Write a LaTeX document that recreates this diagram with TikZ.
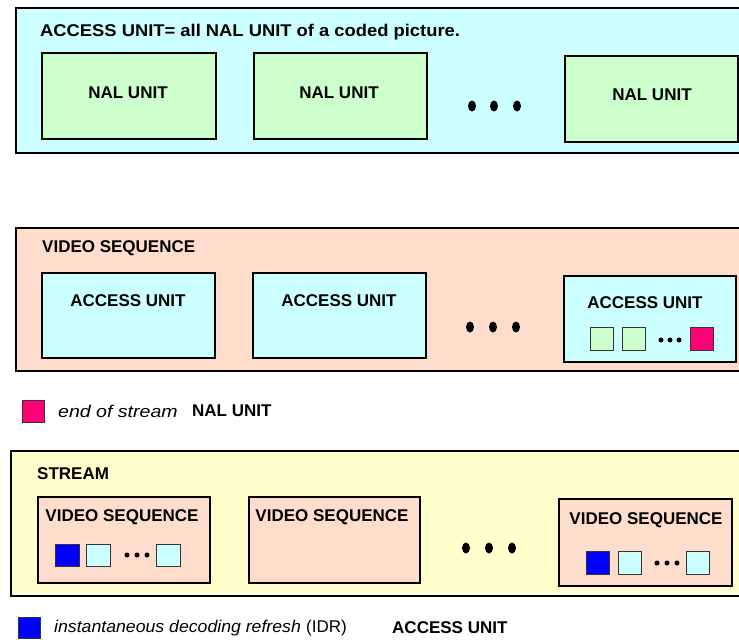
\documentclass[tikz,border=0pt]{standalone}
\usepackage{fontspec}
\setmainfont{Liberation Sans}
\definecolor{aucyan}{HTML}{CCFFFF}
\definecolor{nalgreen}{HTML}{CCFFCC}
\definecolor{vspeach}{HTML}{FFDDCC}
\definecolor{stryellow}{HTML}{FFFFCC}
\definecolor{eospink}{HTML}{FF0077}
\definecolor{idrblue}{HTML}{0000FF}
\tikzset{
  outerbox/.style={draw=black, line width=2.2pt, anchor=north west, inner sep=0pt},
  unitbox/.style={draw=black, line width=1.6pt, anchor=north west, inner sep=0pt},
  tinybox/.style={draw=black!80, line width=0.8pt, anchor=north west, inner sep=0pt,
                  minimum width=23pt, minimum height=23pt},
  txt/.style={inner sep=0pt, font=\fontsize{17}{20}\selectfont\bfseries},
  itxt/.style={inner sep=0pt, font=\fontsize{17}{20}\selectfont\itshape},
  rtxt/.style={inner sep=0pt, font=\fontsize{17}{20}\selectfont},
  bigdot/.style={fill=black, ellipse, inner sep=0pt, minimum width=8pt, minimum height=11pt},
  smalldot/.style={fill=black, circle, inner sep=0pt, minimum size=5pt},
}
\usetikzlibrary{shapes.geometric}
\begin{document}
\begin{tikzpicture}[x=1pt, y=-1pt]
\useasboundingbox (0,0) rectangle (739,641);
\clip (0,0) rectangle (739,641);
\fill[white] (0,0) rectangle (739,641);

% ---- access unit row ----
\node[outerbox, fill=aucyan, minimum width=740pt, minimum height=145pt] (au) at (15,7) {};
\node[txt, anchor=west] (autitle) at (40,32) {\scalebox{1.08}[1]{ACCESS UNIT= all NAL UNIT of a coded picture.}};
\node[unitbox, fill=nalgreen, minimum width=174pt, minimum height=86pt] (nal1) at (41,52) {};
\node[unitbox, fill=nalgreen, minimum width=173pt, minimum height=86pt] (nal2) at (253,52) {};
\node[unitbox, fill=nalgreen, minimum width=173pt, minimum height=86pt] (nal3) at (564,55) {};
\node[txt] (nal1t) at (128,93) {NAL UNIT};
\node[txt] (nal2t) at (339,93) {NAL UNIT};
\node[txt] (nal3t) at (652,95) {NAL UNIT};
\node[bigdot] (d1a) at (472,106) {};
\node[bigdot] (d1b) at (494,106) {};
\node[bigdot] (d1c) at (517,106) {};

% ---- video sequence row ----
\node[outerbox, fill=vspeach, minimum width=740pt, minimum height=143pt] (vs) at (15,227) {};
\node[txt, anchor=west] (vstitle) at (42,248) {VIDEO SEQUENCE};
\node[unitbox, fill=aucyan, minimum width=173pt, minimum height=85pt] (au1) at (41,272) {};
\node[unitbox, fill=aucyan, minimum width=173pt, minimum height=85pt] (au2) at (252,272) {};
\node[unitbox, fill=aucyan, minimum width=172pt, minimum height=86pt] (au3) at (563,275) {};
\node[txt] (au1t) at (128,301) {ACCESS UNIT};
\node[txt] (au2t) at (339,301) {ACCESS UNIT};
\node[txt] (au3t) at (645,303) {ACCESS UNIT};
\node[tinybox, fill=nalgreen] (au3a) at (590,327) {};
\node[tinybox, fill=nalgreen] (au3b) at (622,327) {};
\node[smalldot] (au3d1) at (661,340) {};
\node[smalldot] (au3d2) at (670,340) {};
\node[smalldot] (au3d3) at (679,340) {};
\node[tinybox, fill=eospink] (au3e) at (690,327) {};
\node[bigdot] (d2a) at (470,327) {};
\node[bigdot] (d2b) at (493,327) {};
\node[bigdot] (d2c) at (516,327) {};

% ---- legend: end of stream ----
\node[tinybox, fill=eospink, minimum width=22pt, minimum height=22pt] (eoskey) at (22,400) {};
\node[itxt, anchor=west] (eostxt) at (58,411) {\scalebox{1.15}[1]{end of stream}};
\node[txt, anchor=west] (eosnal) at (192,411) {NAL UNIT};

% ---- stream row ----
\node[outerbox, fill=stryellow, minimum width=745pt, minimum height=145pt] (st) at (10,450) {};
\node[txt, anchor=west] (sttitle) at (37,474) {STREAM};
\node[unitbox, fill=vspeach, minimum width=172pt, minimum height=86pt] (vs1) at (37,496) {};
\node[unitbox, fill=vspeach, minimum width=171pt, minimum height=86pt] (vs2) at (248,496) {};
\node[unitbox, fill=vspeach, minimum width=173pt, minimum height=87pt] (vs3) at (558,498) {};
\node[txt] (vs1t) at (122,517) {VIDEO SEQUENCE};
\node[txt] (vs2t) at (332,517) {VIDEO SEQUENCE};
\node[txt] (vs3t) at (646,520) {VIDEO SEQUENCE};
\node[tinybox, fill=idrblue, minimum width=24pt, minimum height=22pt] (vs1a) at (55,544) {};
\node[tinybox, fill=aucyan, minimum width=24pt, minimum height=22pt] (vs1b) at (86,544) {};
\node[smalldot] (vs1d1) at (127,555) {};
\node[smalldot] (vs1d2) at (137,555) {};
\node[smalldot] (vs1d3) at (147,555) {};
\node[tinybox, fill=aucyan, minimum width=24pt, minimum height=22pt] (vs1c) at (156,544) {};
\node[tinybox, fill=idrblue] (vs3a) at (586,551) {};
\node[tinybox, fill=aucyan] (vs3b) at (618,551) {};
\node[smalldot] (vs3d1) at (657,563) {};
\node[smalldot] (vs3d2) at (667,563) {};
\node[smalldot] (vs3d3) at (677,563) {};
\node[tinybox, fill=aucyan] (vs3c) at (686,551) {};
\node[bigdot] (d3a) at (466,548) {};
\node[bigdot] (d3b) at (489,548) {};
\node[bigdot] (d3c) at (512,548) {};

% ---- legend: IDR ----
\node[tinybox, fill=idrblue, minimum width=22pt, minimum height=21pt] (idrkey) at (18,617) {};
\node[itxt, anchor=west] (idrtxt) at (54,628) {\scalebox{1.04}[1]{instantaneous decoding refresh}};
\node[rtxt, anchor=west] (idrabbr) at (306,628) {(IDR)};
\node[txt, anchor=west] (idrau) at (392,628) {ACCESS UNIT};
\end{tikzpicture}
\end{document}
